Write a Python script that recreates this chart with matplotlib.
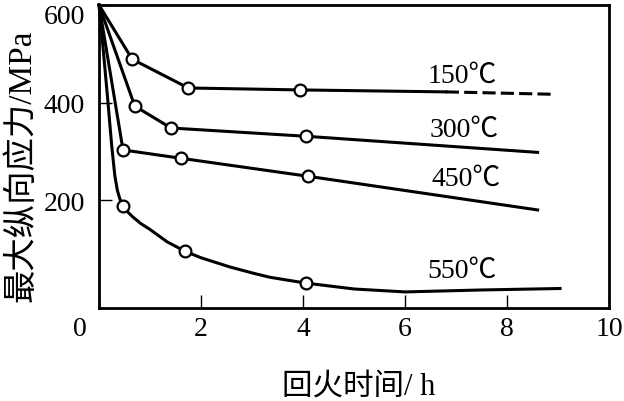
import matplotlib
matplotlib.use('Agg')
import matplotlib.pyplot as plt
from matplotlib.transforms import ScaledTranslation

plt.rcParams['font.family'] = ['Liberation Serif', 'Noto Sans CJK SC', 'DejaVu Sans']

# 150℃
t150 = [0, 0.65, 1.75, 3.94, 6.8]
s150 = [600, 489, 430, 426, 422]
t150_dash = [6.8, 8.94]
s150_dash = [422, 417]
m150_t = [0.65, 1.75, 3.94]
m150_s = [489, 430, 426]

# 300℃
t300 = [0, 0.7, 1.41, 4.06, 8.6]
s300 = [600, 393, 348, 331, 298]
m300_t = [0.7, 1.41, 4.06]
m300_s = [393, 348, 331]

# 450℃
t450 = [0, 0.47, 1.6, 4.1, 8.6]
s450 = [600, 303, 286, 249, 180]
m450_t = [0.47, 1.6, 4.1]
m450_s = [303, 286, 249]

# 550℃
t550 = [0, 0.09, 0.17, 0.25, 0.31, 0.36, 0.41, 0.47, 0.56, 0.67, 0.82, 1.0, 1.33,
        1.69, 2.0, 2.57, 3.0, 3.35, 4.06, 5.0, 6.0, 7.5, 9.04]
s550 = [600, 500, 407, 310, 250, 220, 202, 188, 176, 165, 152, 140, 115,
        95, 82, 63, 51, 42, 30, 18, 12, 16, 19]
m550_t = [0.47, 1.69, 4.06]
m550_s = [188, 95, 30]

labels = ['150℃', '300℃', '450℃', '550℃']
label_t = [7.12, 7.16, 7.2, 7.12]
label_s = [456, 346, 245, 56]

xticks = [0, 2, 4, 6, 8, 10]
yticks = [200, 400, 600]

fig = plt.figure(figsize=(6.24, 4.02), dpi=100)
ax = fig.add_axes([0.1587, 0.2313, 0.8173, 0.7537])

lw = 2.2
for t, s in [(t150, s150), (t300, s300), (t450, s450), (t550, s550)]:
    ax.plot(t, s, color='black', lw=lw, solid_joinstyle='round', clip_on=False, zorder=2)
ax.plot(t150_dash, s150_dash, color='black', lw=lw, dashes=(4.3, 1.7), zorder=2)

for t, s in [(m150_t, m150_s), (m300_t, m300_s), (m450_t, m450_s), (m550_t, m550_s)]:
    ax.plot(t, s, 'o', ms=8.5, mfc='white', mec='black', mew=1.6, zorder=3)

for lab, t, s in zip(labels, label_t, label_s):
    ax.text(t, s, lab, fontsize=20, ha='center', va='center')

ax.set_xlim(0, 10)
ax.set_ylim(-21, 600)
ax.set_xticks(xticks)
ax.set_yticks(yticks)
ax.tick_params(direction='in', length=9.5, width=1.0, labelsize=20)
ax.tick_params(axis='x', pad=6)
ax.tick_params(axis='y', pad=10)
for sp in ax.spines.values():
    sp.set_linewidth(2.0)

# 原点处的 0 往左挪一点, 顶上的 600 往下挪一点
lab0 = ax.get_xticklabels()[0]
lab0.set_transform(lab0.get_transform() + ScaledTranslation(-0.19, 0, fig.dpi_scale_trans))
lab600 = ax.get_yticklabels()[-1]
lab600.set_transform(lab600.get_transform() + ScaledTranslation(0, -0.08, fig.dpi_scale_trans))

fig.text(359 / 624, 1 - 387 / 402, '回火时间/ h', fontsize=22, ha='center', va='center')
fig.text(22 / 624, 1 - 166 / 402, '最大纵向应力/MPa', fontsize=24, rotation=90,
         ha='center', va='center')

fig.savefig('out.png', dpi=100)
